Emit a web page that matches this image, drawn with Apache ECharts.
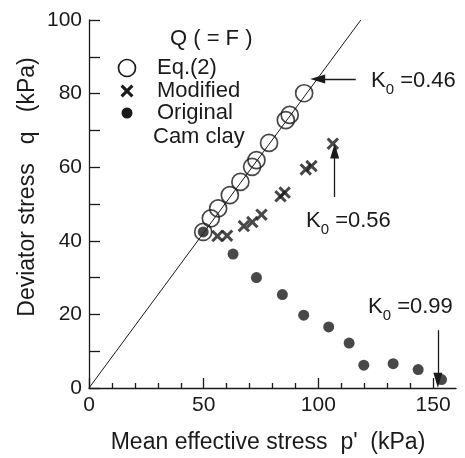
<!DOCTYPE html>
<html><head><meta charset="utf-8">
<script src="https://cdn.jsdelivr.net/npm/echarts@6/dist/echarts.min.js"></script>
<style>html,body{margin:0;padding:0;background:#fff}#c{width:465px;height:458px}</style>
</head><body><div id="c"></div>
<script>
// Data
const eqP   = [49.8, 53.1, 56.3, 61.4, 66.0, 71.1, 73.0, 78.5, 85.8, 87.5, 93.8];
const eqQ   = [42.4, 46.1, 48.8, 52.4, 56.0, 60.1, 61.9, 66.6, 72.8, 74.2, 80.1];
const modP  = [56.0, 60.2, 67.5, 71.2, 75.2, 83.5, 85.3, 94.5, 97.0, 106.3];
const modQ  = [41.3, 41.4, 44.0, 45.1, 47.1, 52.1, 53.1, 59.4, 60.3, 66.4];
const origP = [49.8, 62.8, 73.0, 84.3, 93.6, 104.5, 113.4, 119.8, 132.6, 143.5, 153.7];
const origQ = [42.4, 36.4, 30.0, 25.4, 19.8, 16.6, 12.2, 6.2, 6.6, 5.0, 2.3];
const lineP = [0, 118.5];
const lineQ = [0, 100];
const seriesNames = ['Eq.(2)', 'Modified', 'Original'];
const xMajorTicks = [0, 50, 100, 150];
const xMinorTicks = [10, 20, 30, 40, 60, 70, 80, 90, 110, 120, 130, 140];
// arrows (from, to) in data units
const arrowK046 = [[116.3, 84.0], [99.7, 84.0]];
const arrowK056 = [[107.1, 51.9], [107.1, 64.4]];
const arrowK099 = [[152.1, 15.7], [152.1, 2.1]];

const FONT = '"Liberation Sans", Arial, Helvetica, sans-serif';
const INK = '#1a1a1a';
const FS = 21;
const FT = 22;
const zip = (a, b) => a.map((v, i) => [v, b[i]]);
const cross = 'path://M0,1.7L1.7,0L5,3.3L8.3,0L10,1.7L6.7,5L10,8.3L8.3,10L5,6.7L1.7,10L0,8.3L3.3,5Z';
function crossPts(cx, cy, s) {
  const raw = [[0,1.7],[1.7,0],[5,3.3],[8.3,0],[10,1.7],[6.7,5],[10,8.3],[8.3,10],[5,6.7],[1.7,10],[0,8.3],[3.3,5]];
  return raw.map(p => [cx + (p[0] - 5) * s / 10, cy + (p[1] - 5) * s / 10]);
}

const chart = echarts.init(document.getElementById('c'), null, {renderer: 'canvas'});
const grid = {left: 89, right: 9, top: 20, bottom: 70};

function kText(val) {
  return {
    text: '{k|K}{s|0}{k| =' + val + '}',
    rich: {
      k: {fontSize: FT, fontFamily: FONT, fill: INK, lineHeight: 24, verticalAlign: 'top'},
      s: {fontSize: 15, fontFamily: FONT, fill: INK, lineHeight: 18, verticalAlign: 'top', padding: [12, 0, 0, 0]}
    },
    fill: INK, verticalAlign: 'middle', align: 'left'
  };
}
const txt = (x, y, s, extra) => Object.assign({type: 'text', x: x, y: y, style: {text: s, font: FT + 'px ' + FONT, fill: INK, verticalAlign: 'middle'}}, extra || {});

const arrowLine = (pair) => [{coord: pair[0], symbol: 'none'}, {coord: pair[1], symbol: 'triangle', symbolSize: [9, 15]}];

chart.setOption({
  animation: false,
  backgroundColor: '#fff',
  textStyle: {fontFamily: FONT},
  grid: grid,
  xAxis: [{
    type: 'value', min: 0, max: 160, interval: 10,
    axisLine: {show: true, lineStyle: {color: INK, width: 1.3}},
    axisTick: {show: true, inside: true, length: 10, customValues: xMajorTicks, lineStyle: {color: INK, width: 1.3}},
    axisLabel: {show: true, customValues: xMajorTicks, fontSize: FS, color: INK, fontFamily: FONT, margin: 7},
    splitLine: {show: false}
  }, {
    type: 'value', min: 0, max: 160, interval: 10, position: 'bottom',
    axisLine: {show: false},
    axisTick: {show: true, inside: true, length: 5, customValues: xMinorTicks, lineStyle: {color: INK, width: 1.3}},
    axisLabel: {show: false},
    splitLine: {show: false}
  }],
  yAxis: {
    type: 'value', min: 0, max: 100, interval: 20,
    axisLine: {show: true, lineStyle: {color: INK, width: 1.3}},
    axisTick: {show: true, inside: true, length: 11, lineStyle: {color: INK, width: 1.3}},
    minorTick: {show: true, splitNumber: 2, length: 11, lineStyle: {color: INK, width: 1.3}},
    axisLabel: {fontSize: FS, color: INK, fontFamily: FONT, margin: 7},
    splitLine: {show: false}
  },
  series: [{
    type: 'line', data: zip(lineP, lineQ), showSymbol: false, symbol: 'none',
    lineStyle: {color: INK, width: 1}, z: 1, silent: true,
    markLine: {
      silent: true, animation: false,
      lineStyle: {color: INK, width: 1.3, type: 'solid'},
      label: {show: false},
      data: [arrowLine(arrowK046), arrowLine(arrowK056), arrowLine(arrowK099)]
    }
  }, {
    name: seriesNames[0], type: 'scatter', data: zip(eqP, eqQ), symbol: 'circle', symbolSize: 17,
    itemStyle: {color: 'rgba(0,0,0,0)', borderColor: INK, borderWidth: 1.7}, z: 3
  }, {
    name: seriesNames[1], type: 'scatter', data: zip(modP, modQ), symbol: cross, symbolSize: 12.5,
    itemStyle: {color: INK}, z: 3
  }, {
    name: seriesNames[2], type: 'scatter', data: zip(origP, origQ), symbol: 'circle', symbolSize: 11,
    itemStyle: {color: INK}, z: 4
  }],
  graphic: [
    txt(170, 39, 'Q ( = F )'),
    {type: 'circle', shape: {cx: 127, cy: 68, r: 8.5}, style: {fill: 'none', stroke: INK, lineWidth: 1.7}},
    {type: 'polygon', shape: {points: crossPts(127, 91, 13)}, style: {fill: INK}},
    {type: 'circle', shape: {cx: 127, cy: 113, r: 5.5}, style: {fill: INK}},
    txt(157, 68, seriesNames[0]),
    txt(157, 91, seriesNames[1]),
    txt(157, 113, seriesNames[2]),
    txt(153, 137, 'Cam clay'),
    {type: 'text', x: 371, y: 82, style: kText('0.46')},
    {type: 'text', x: 306, y: 222, style: kText('0.56')},
    {type: 'text', x: 368, y: 308, style: kText('0.99')},
    {type: 'text', x: 268, y: 443, style: {text: 'Mean effective stress  p\'  (kPa)', font: '23px ' + FONT, fill: INK, align: 'center', verticalAlign: 'middle'}},
    {type: 'text', x: 28, y: 187, rotation: Math.PI / 2, style: {text: 'Deviator stress   q   (kPa)', font: '23px ' + FONT, fill: INK, align: 'center', verticalAlign: 'middle'}}
  ]
});
</script></body></html>
